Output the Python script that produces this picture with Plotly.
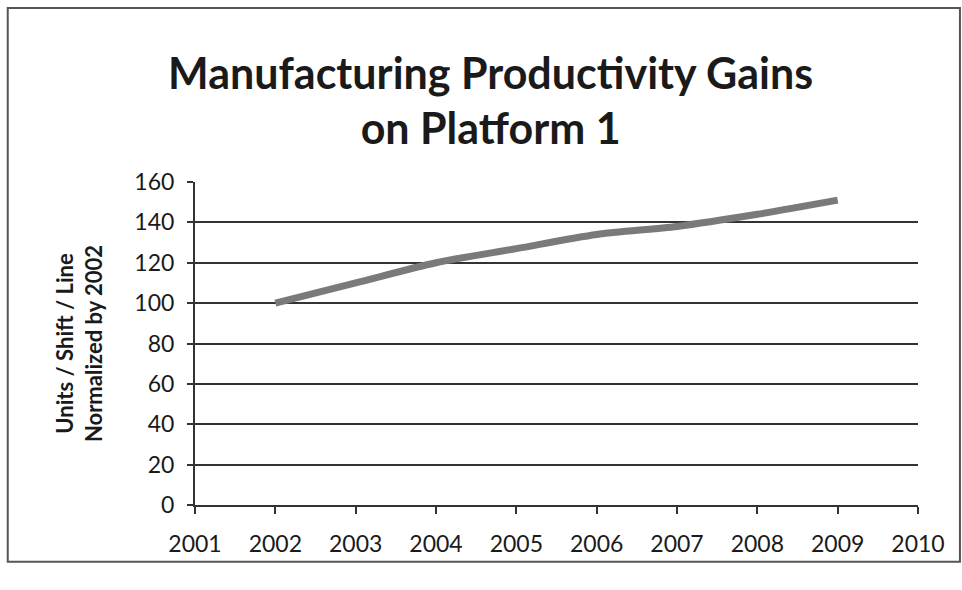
import plotly.graph_objects as go

years = [2002, 2003, 2004, 2005, 2006, 2007, 2008, 2009]
productivity = [100, 110, 120, 127, 134, 138, 144, 151]
x_ticks = list(range(2001, 2011))
y_ticks = list(range(0, 161, 20))

fig = go.Figure()
fig.add_trace(go.Scatter(
    x=years, y=productivity, mode="lines",
    line=dict(color="#7a7a7a", width=7, shape="spline", smoothing=0.8),
    hoverinfo="x+y", showlegend=False,
))

font_family = "Lato, 'Open Sans', sans-serif"

fig.update_layout(
    width=962, height=590,
    paper_bgcolor="white", plot_bgcolor="white",
    margin=dict(l=195, r=44, t=182, b=85),
    title=dict(
        text="<b>Manufacturing Productivity Gains<br>on Platform 1</b>",
        x=0.51, xanchor="center", y=0.85, yanchor="middle",
        font=dict(family=font_family, size=43, color="#1a1a1a"),
    ),
    font=dict(family=font_family, color="#1a1a1a"),
    xaxis=dict(
        range=[2001, 2010], tickvals=x_ticks, ticktext=[str(v) for v in x_ticks],
        showgrid=False, zeroline=False,
        showline=True, linecolor="#333", linewidth=2,
        ticks="outside", ticklen=7, tickcolor="#333", tickwidth=1.5,
        tickfont=dict(size=23), ticklabelstandoff=10,
    ),
    yaxis=dict(
        range=[0, 160], tickvals=y_ticks,
        showgrid=True, gridcolor="#333", gridwidth=2,
        zeroline=False, showline=True, linecolor="#333", linewidth=2,
        ticks="outside", ticklen=6, tickcolor="#333", tickwidth=1.5,
        tickfont=dict(size=23), ticklabelstandoff=8,
        title=dict(text="<b>Units / Shift / Line<br>Normalized by 2002</b>",
                   font=dict(size=22), standoff=26),
    ),
    shapes=[dict(type="rect", xref="paper", yref="paper",
                 x0=-0.259, x1=1.058, y0=-0.176, y1=1.539,
                 line=dict(color="#555", width=2))],
)

fig.write_html("out.html")
